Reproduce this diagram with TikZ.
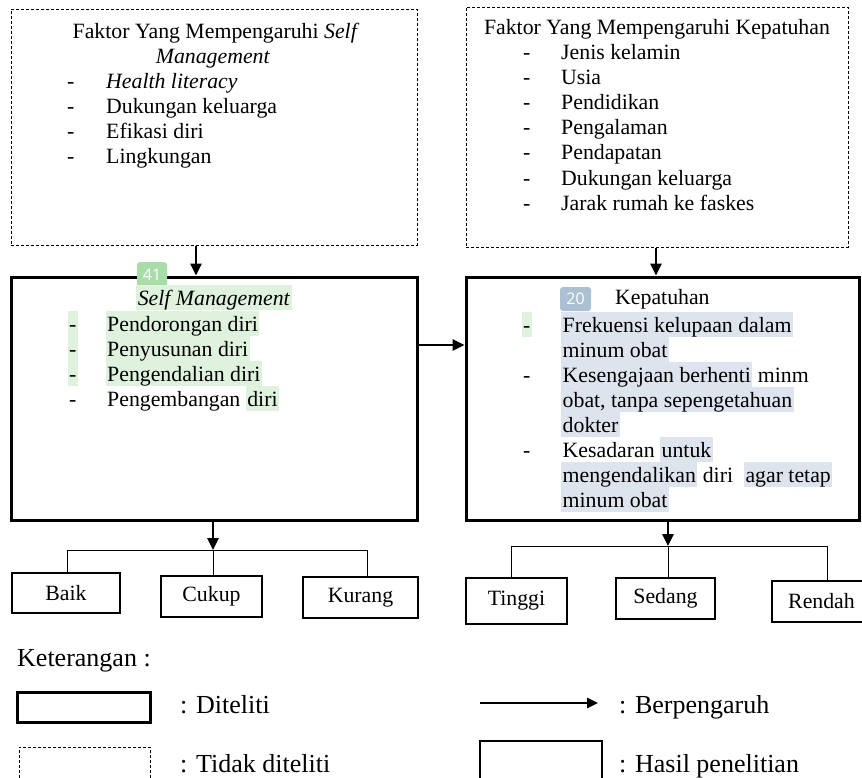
\documentclass[tikz,border=0pt]{standalone}
\usepackage{fontspec}
\setmainfont{Liberation Serif}
\newfontfamily\badgefont{Open Sans}
\usetikzlibrary{arrows.meta}
\definecolor{hlg}{RGB}{222,242,222}
\definecolor{hlb}{RGB}{222,228,237}
\definecolor{bdg}{RGB}{168,220,168}
\definecolor{bdb}{RGB}{172,192,212}
\newcommand\hlG[1]{{\setlength\fboxsep{0pt}\colorbox{hlg}{\rule[-5pt]{0pt}{25pt}\kern1.5pt#1\kern1.5pt}}}
\newcommand\hlB[1]{{\setlength\fboxsep{0pt}\colorbox{hlb}{\rule[-5pt]{0pt}{25pt}\kern1.5pt#1\kern1.5pt}}}
\tikzset{
  txt/.style={anchor=base west, inner sep=0pt, font=\fontsize{21.8}{25}\selectfont},
  ctxt/.style={txt, anchor=base},
  leg/.style={anchor=base west, inner sep=0pt, font=\fontsize{26}{30}\selectfont},
  dbox/.style={draw, line width=1pt, dash pattern=on 3pt off 2pt, inner sep=0pt},
  tbox/.style={draw, line width=3pt, inner sep=0pt},
  rbox/.style={draw, line width=1.2pt, inner sep=0pt, font=\fontsize{21.8}{25}\selectfont},
  arr/.style={line width=2.5pt, -{Triangle[length=12pt,width=11pt]}},
  thinline/.style={line width=1pt},
  badge/.style={fill=#1, rounded corners=3pt, inner sep=0pt, text=white, font=\badgefont\fontsize{16}{18}\selectfont},
}
\begin{document}
\begin{tikzpicture}[x=1pt,y=-1pt]
\useasboundingbox (0,0) rectangle (862,777);
\clip (0,0) rectangle (862,777);

% ---- boxes
\node[dbox, minimum width=406, minimum height=236] (fsm) at (214,127) {};
\node[dbox, minimum width=382, minimum height=240] (fkp) at (657,127) {};
\node[tbox, minimum width=406, minimum height=243] (sm) at (214,398.5) {};
\node[tbox, minimum width=393, minimum height=243] (kp) at (662.5,398.5) {};

% ---- left dashed box text
\node[ctxt] (fsmT1) at (216,38) {Faktor Yang Mempengaruhi \textit{Self}};
\node[ctxt] (fsmT2) at (213,63) {\textit{Management}};
\foreach \t [count=\i] in {\textit{Health literacy}, Dukungan keluarga, Efikasi diri, Lingkungan} {
  \node[txt] (fsmD\i) at (67,{63+25*\i}) {-};
  \node[txt] (fsmI\i) at (106,{63+25*\i}) {\t};
}

% ---- right dashed box text
\node[ctxt] (fkpT) at (657,34) {Faktor Yang Mempengaruhi Kepatuhan};
\foreach \t [count=\i] in {Jenis kelamin, Usia, Pendidikan, Pengalaman, Pendapatan, Dukungan keluarga, Jarak rumah ke faskes} {
  \node[txt] (fkpD\i) at (523,{33.8+25.2*\i}) {-};
  \node[txt] (fkpI\i) at (561,{33.8+25.2*\i}) {\t};
}

% ---- Self Management box
\node[badge=bdg, minimum width=30, minimum height=25] (b41) at (152,274.5) {41};
\node[ctxt] (smT) at (214,305) {\hlG{\textit{Self Management}}};
\node[txt] (smD1) at (67.5,331) {\hlG{-}};
\node[txt] (smI1) at (105.5,331) {\hlG{Pendorongan diri}};
\node[txt] (smD2) at (67.5,356) {\hlG{-}};
\node[txt] (smI2) at (105.5,356) {\hlG{Penyusunan diri}};
\node[txt] (smD3) at (67.5,381) {\hlG{-}};
\node[txt] (smI3) at (105.5,381) {\hlG{Pengendalian diri}};
\node[txt] (smD4) at (69,406) {-};
\node[txt] (smI4) at (107,406) {Pengembangan \hlG{diri}};

% ---- Kepatuhan box
\node[badge=bdb, minimum width=31, minimum height=24] (b20) at (575.5,299) {20};
\node[txt] (kpT) at (615,304) {Kepatuhan};
\node[txt] (kpD1) at (521.5,332) {\hlG{-}};
\node[txt] (kpI1) at (561,332) {\hlB{Frekuensi kelupaan dalam}};
\node[txt] (kpI2) at (561,357) {\hlB{minum obat}};
\node[txt] (kpD3) at (523,382) {-};
\node[txt] (kpI3) at (561,382) {\hlB{Kesengajaan berhenti} minm};
\node[txt] (kpI4) at (561,407) {\hlB{obat, tanpa sepengetahuan}};
\node[txt] (kpI5) at (561,432) {\hlB{dokter}};
\node[txt] (kpD6) at (523,457) {-};
\node[txt] (kpI6) at (562.5,457) {Kesadaran \hlB{untuk}};
\node[txt] (kpI7) at (561,482) {\hlB{mengendalikan} diri\ \ \hlB{agar tetap}};
\node[txt] (kpI8) at (561,507) {\hlB{minum obat}};

% ---- result boxes
\node[rbox, minimum width=108, minimum height=40] (baik) at (66,593) {Baik};
\node[rbox, minimum width=101, minimum height=41] (cukup) at (211.5,596.5) {Cukup};
\node[rbox, minimum width=115, minimum height=41] (kurang) at (360.5,597.5) {Kurang};
\node[rbox, minimum width=101, minimum height=46] (tinggi) at (516.5,601) {Tinggi};
\node[rbox, minimum width=99, minimum height=41] (sedang) at (665.5,598.5) {Sedang};
\node[rbox, minimum width=99, minimum height=41] (rendah) at (821.5,601.5) {Rendah};

% ---- connectors
\coordinate (xa) at (196,0);
\coordinate (xb) at (656,0);
\coordinate (yh) at (0,345);
\draw[arr] (fsm.south -| xa) -- (sm.north -| xa);
\draw[arr] (fkp.south -| xb) -- (kp.north -| xb);
\draw[arr] (sm.east |- yh) -- (kp.west |- yh);

\coordinate (jl) at (213,550);
\coordinate (jlL) at (67,550);
\coordinate (jlR) at (367,550);
\draw[arr] (sm.south -| jl) -- (jl);
\draw[thinline] (jlL) -- (jlR);
\draw[thinline] (jlL) -- (baik.north -| jlL);
\draw[thinline] (jl) -- (cukup.north -| jl);
\draw[thinline] (jlR) -- (kurang.north -| jlR);

\coordinate (jr) at (668,546);
\coordinate (jrL) at (511,546);
\coordinate (jrR) at (827,546);
\draw[arr] (kp.south -| jr) -- (jr);
\draw[thinline] (jrL) -- (jrR);
\draw[thinline] (jrL) -- (tinggi.north -| jrL);
\draw[thinline] (jr) -- (sedang.north -| jr);
\draw[thinline] (jrR) -- (rendah.north -| jrR);

% ---- legend
\node[leg] (ket) at (17,666) {Keterangan :};
\node[tbox, minimum width=133, minimum height=30] (lg1) at (83.5,707) {};
\node[leg] (lg1t) at (180,713) {: Diteliti};
\node[dbox, minimum width=131, minimum height=60] (lg2) at (84.5,777) {};
\node[leg] (lg2t) at (180,772) {: Tidak diteliti};
\coordinate (la1) at (480,703);
\coordinate (la2) at (598,703);
\draw[line width=2.5pt, -{Triangle[length=11pt,width=10pt]}] (la1) -- (la2);
\node[leg] (lg3t) at (619,713) {: Berpengaruh};
\node[rbox, minimum width=122, minimum height=60] (lg4) at (541,771) {};
\node[leg] (lg4t) at (619,772) {: Hasil penelitian};
\end{tikzpicture}
\end{document}
